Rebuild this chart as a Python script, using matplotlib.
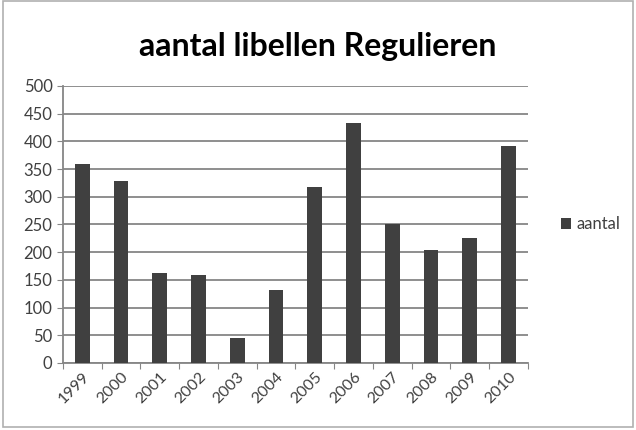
import matplotlib.pyplot as plt
from matplotlib.patches import Rectangle
import numpy as np

# values
years = ["1999", "2000", "2001", "2002", "2003", "2004",
         "2005", "2006", "2007", "2008", "2009", "2010"]
aantal = [360, 329, 163, 159, 45, 132, 318, 433, 251, 204, 226, 391]

plt.rcParams['font.family'] = ['Lato', 'DejaVu Sans']

fig = plt.figure(figsize=(6.36, 4.3), dpi=100)
ax = fig.add_axes([0.099, 0.156, 0.731, 0.644])

x = np.arange(len(years))
ax.bar(x, aantal, width=0.38, color="#404040", label="aantal", zorder=3)

ax.set_xlim(-0.5, len(years) - 0.5)
ax.set_ylim(0, 500)
ax.set_yticks(np.arange(0, 501, 50))
ax.grid(axis="y", color="#868686", linewidth=1.3, zorder=0)

# category ticks sit between the bars, like Excel
ax.set_xticks(np.arange(-0.5, len(years) + 0.5, 1), minor=False)
ax.set_xticklabels([])
ax.set_xticks(x, minor=True)
ax.set_xticklabels(years, minor=True, rotation=45, ha="right",
                   rotation_mode="anchor", fontsize=11.5, color="#404040")
ax.tick_params(axis="x", which="minor", length=0, pad=5)
ax.tick_params(axis="x", which="major", length=4, color="#868686")
ax.tick_params(axis="y", length=4, color="#868686", labelsize=12,
               labelcolor="#404040")

for s in ["top", "right"]:
    ax.spines[s].set_visible(False)
for s in ["left", "bottom"]:
    ax.spines[s].set_color("#868686")
    ax.spines[s].set_linewidth(1.3)

fig.text(0.5, 0.893, "aantal libellen Regulieren", ha="center", va="center",
         fontsize=23, fontweight="bold", color="#000000")

ax.legend(loc="center left", bbox_to_anchor=(1.04, 0.5), frameon=False,
          fontsize=12, handlelength=0.6, handleheight=0.6, handletextpad=0.3,
          labelcolor="#404040")

fig.patches.append(Rectangle((0.004, 0.008), 0.992, 0.99, transform=fig.transFigure,
                             fill=False, edgecolor="#b0b0b0", linewidth=1.2))

fig.savefig("out.png", dpi=100)
